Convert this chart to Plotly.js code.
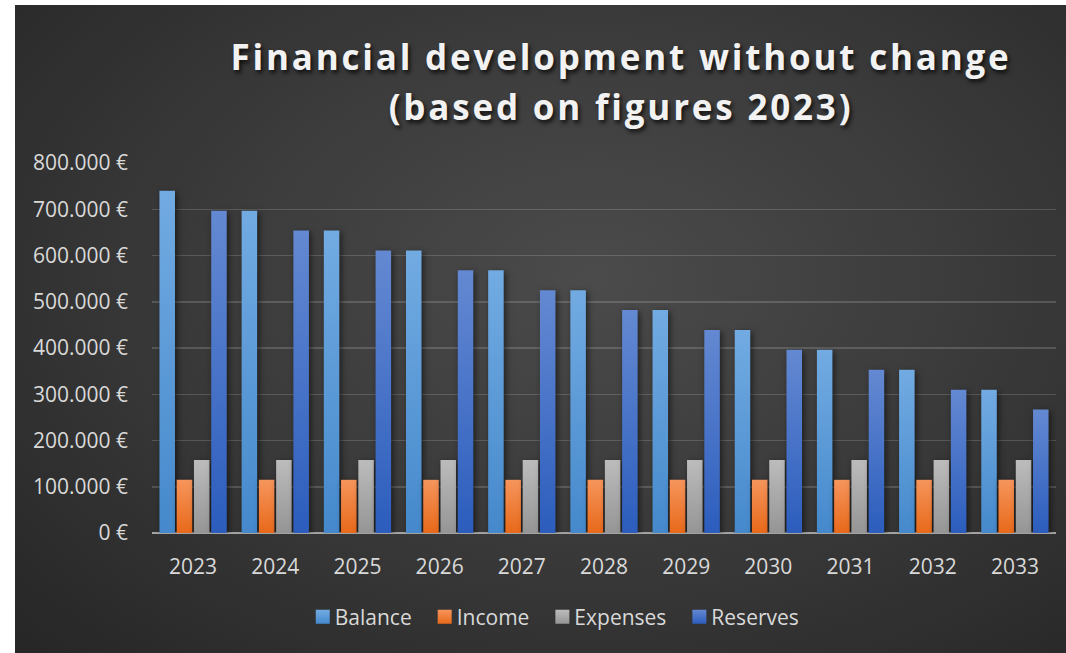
<!DOCTYPE html>
<html><head><meta charset="utf-8">
<script src="https://cdn.plot.ly/plotly-3.0.1.min.js"></script>
<style>
html,body{margin:0;padding:0;background:#fff;width:1066px;height:653px;overflow:hidden}
#chart{position:absolute;left:15px;top:5px;width:1051px;height:648px;
background:radial-gradient(ellipse 75% 80% at 55% 42%, #4b4b4b 0%, #3c3c3c 45%, #272727 100%);}
</style></head><body><div id="chart"></div>
<script>
const years = ['2023','2024','2025','2026','2027','2028','2029','2030','2031','2032','2033'];
const balance  = [740000,697000,654000,611000,568000,525000,482000,439000,396000,353000,310000];
const income   = [115000,115000,115000,115000,115000,115000,115000,115000,115000,115000,115000];
const expenses = [158000,158000,158000,158000,158000,158000,158000,158000,158000,158000,158000];
const reserves = [697000,654000,611000,568000,525000,482000,439000,396000,353000,310000,267000];
const seriesNames = ['Balance','Income','Expenses','Reserves'];
const yTicks = [0,100000,200000,300000,400000,500000,600000,700000,800000];
const yTickText = ['0 €','100.000 €','200.000 €','300.000 €','400.000 €','500.000 €','600.000 €','700.000 €','800.000 €'];

const grads = [
  ['#72abe2','#4589cc'],
  ['#f6955c','#e8691a'],
  ['#bcbcbc','#959595'],
  ['#6489d2','#2c5dbd']
];
const seriesVals = [balance, income, expenses, reserves];
const font = 'Open Sans, sans-serif';

const data = seriesVals.map((v,i)=>({
  type:'bar', x:years, y:v, name:seriesNames[i],
  marker:{color:grads[i][1], line:{width:0}},
  hoverinfo:'skip'
}));

const layout = {
  width:1051, height:648,
  paper_bgcolor:'rgba(0,0,0,0)', plot_bgcolor:'rgba(0,0,0,0)',
  margin:{l:137, r:10, t:158, b:120},
  barmode:'group', bargap:0.16, bargroupgap:0.1,
  title:{
    text:'Financial development without change<br>(based on figures 2023)',
    x:0.5766, xref:'container', xanchor:'center',
    y:0.90, yref:'container', yanchor:'top',
    font:{family:font, size:35, color:'#f2f2f2', weight:700, shadow:'2px 3px 4px rgba(0,0,0,0.75)'}
  },
  xaxis:{
    type:'category',
    tickfont:{family:font, size:21, color:'#d9d9d9'},
    showgrid:false, showline:false, ticks:'', ticklabelstandoff:19,
    fixedrange:true
  },
  yaxis:{
    range:[0,800000], tickmode:'array', tickvals:yTicks, ticktext:yTickText,
    tickfont:{family:font, size:21, color:'#d9d9d9'},
    gridcolor:'rgba(255,255,255,0.16)', gridwidth:1.5,
    zeroline:true, zerolinecolor:'#a3a3a3', zerolinewidth:2.5,
    showline:false, ticks:'', ticklabelstandoff:23, fixedrange:true
  },
  showlegend:true,
  legend:{
    orientation:'h', x:0.44, xanchor:'center', y:-0.227, yanchor:'middle',
    font:{family:font, size:21, color:'#d9d9d9'},
    bgcolor:'rgba(0,0,0,0)', itemwidth:30, traceorder:'normal'
  }
};

Plotly.newPlot('chart', data, layout, {displayModeBar:false, staticPlot:true}).then(gd=>{
  const svg = gd.querySelector('.main-svg');
  const ns = 'http://www.w3.org/2000/svg';
  const defs = document.createElementNS(ns,'defs');
  grads.forEach((g,i)=>{
    const lg = document.createElementNS(ns,'linearGradient');
    lg.setAttribute('id','bg'+i);
    lg.setAttribute('x1','0'); lg.setAttribute('y1','0');
    lg.setAttribute('x2','0'); lg.setAttribute('y2','1');
    [[0,g[0]],[1,g[1]]].forEach(s=>{
      const st = document.createElementNS(ns,'stop');
      st.setAttribute('offset', s[0]); st.setAttribute('stop-color', s[1]);
      lg.appendChild(st);
    });
    defs.appendChild(lg);
  });
  svg.insertBefore(defs, svg.firstChild);
  gd.querySelectorAll('.barlayer .trace').forEach((t,i)=>{
    t.querySelectorAll('path').forEach(p=>{
      p.style.fill = 'url(#bg'+i+')';
      p.style.filter = 'drop-shadow(2px 2px 3px rgba(0,0,0,0.55))';
    });
  });
  gd.querySelectorAll('.legend .traces').forEach((t,i)=>{
    const lp = t.querySelector('.legendpoints');
    if (lp) {
      const bb = lp.getBBox();
      if (bb.width > 0) {
        const cx = bb.x + bb.width/2, cy = bb.y + bb.height/2, s = 14/bb.width;
        lp.setAttribute('transform', 'translate(28,'+cy+') scale('+s+') translate('+(-cx)+','+(-cy)+')');
      }
    }
    t.querySelectorAll('.legendpoints path').forEach(p=>{ p.style.fill = 'url(#bg'+i+')'; });
  });
  const tt = gd.querySelector('.gtitle');
  if (tt) {
    tt.style.letterSpacing = '2.8px';
    const lines = tt.querySelectorAll('tspan.line');
    if (lines.length > 1) lines[1].setAttribute('dy', '1.43em');
  }
});
</script></body></html>
